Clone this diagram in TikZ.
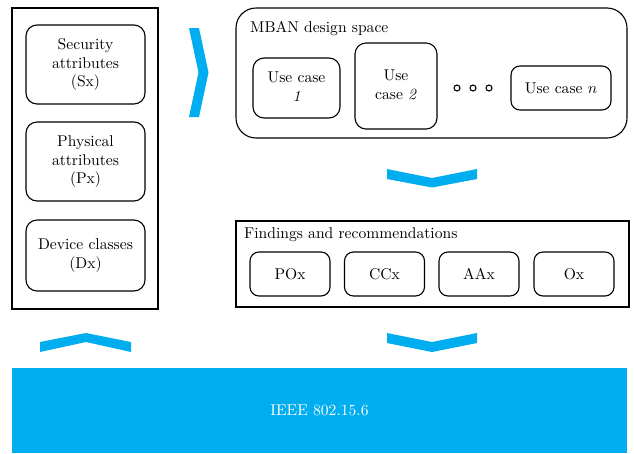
\documentclass[tikz,border=0pt]{standalone}
\usepackage{graphicx}
\definecolor{ieeeblue}{RGB}{0,174,239}
\newcommand{\bigtxt}[1]{\scalebox{1.56}{\begin{tabular}{@{}c@{}}#1\end{tabular}}}
\newcommand{\onetxt}[1]{\scalebox{1.56}{#1}}
\begin{document}
\begin{tikzpicture}[x=1pt,y=-1pt,
  every node/.style={font=\fontsize{10}{12}\selectfont},
  box/.style={draw, line width=1.1pt, align=center, inner sep=0pt, outer sep=0pt, rounded corners=11pt},
  frame/.style={draw, line width=1.1pt, inner sep=0pt, outer sep=0pt},
  chev/.style={fill=ieeeblue, draw=none}]
\useasboundingbox (0,0) rectangle (634,453);
% left column
\node[frame, minimum width=146pt, minimum height=301pt] (left) at (85,158.5) {};
\node[box, minimum width=119pt, minimum height=79pt] (sec) at (85.5,64.5) {\bigtxt{Security\\attributes\\(Sx)}};
\node[box, minimum width=119pt, minimum height=79pt] (phys) at (85.5,161.5) {\bigtxt{Physical\\attributes\\(Px)}};
\node[box, minimum width=119pt, minimum height=71pt] (dev) at (85.5,255.5) {\bigtxt{Device classes\\(Dx)}};
% MBAN design space
\node[box, rounded corners=20pt, minimum width=391pt, minimum height=130pt] (mban) at (431.5,73) {};
\node[anchor=base west, inner sep=0pt] (mbanlbl) at (250,32) {\onetxt{MBAN design space}};
\node[box, minimum width=87pt, minimum height=60pt] (uc1) at (296.5,88) {\bigtxt{Use case\\\textit{1}}};
\node[box, minimum width=82pt, minimum height=86pt] (uc2) at (396,86) {\bigtxt{Use\\case \textit{2}}};
\node[box, rounded corners=9pt, minimum width=100pt, minimum height=44pt] (ucn) at (561,88) {\onetxt{Use case $n$}};
\node[draw, circle, line width=1.1pt, minimum size=6pt, inner sep=0pt] (d1) at (457,88) {};
\node[draw, circle, line width=1.1pt, minimum size=6pt, inner sep=0pt] (d2) at (473,88) {};
\node[draw, circle, line width=1.1pt, minimum size=6pt, inner sep=0pt] (d3) at (489,88) {};
% Findings
\node[frame, minimum width=393pt, minimum height=86pt] (find) at (432.5,264) {};
\node[anchor=base west, inner sep=0pt] (findlbl) at (244,238) {\onetxt{Findings and recommendations}};
\node[box, rounded corners=9pt, minimum width=80pt, minimum height=44pt] (pox) at (290,274) {\onetxt{POx}};
\node[box, rounded corners=9pt, minimum width=80pt, minimum height=44pt] (ccx) at (384.5,274) {\onetxt{CCx}};
\node[box, rounded corners=9pt, minimum width=80pt, minimum height=44pt] (aax) at (479,274) {\onetxt{AAx}};
\node[box, rounded corners=9pt, minimum width=80pt, minimum height=44pt] (ox) at (574,274) {\onetxt{Ox}};
% IEEE
\node[fill=ieeeblue, text=white, inner sep=0pt, outer sep=0pt, minimum width=615pt, minimum height=85pt] (ieee) at (319.5,410.5) {\onetxt{IEEE 802.15.6}};
% chevrons
\fill[chev] (189,28) -- (199,28) -- (208.5,72.5) -- (199,117) -- (189,117) -- (198.5,72.5) -- cycle;
\fill[chev] (387,169) -- (432,178) -- (477,169) -- (477,179) -- (432,187.5) -- (387,179) -- cycle;
\fill[chev] (40,342) -- (86,333) -- (131,342) -- (131,352) -- (86,342) -- (40,352) -- cycle;
\fill[chev] (387,333) -- (432,342) -- (477,333) -- (477,343) -- (432,352) -- (387,343) -- cycle;
\end{tikzpicture}
\end{document}
